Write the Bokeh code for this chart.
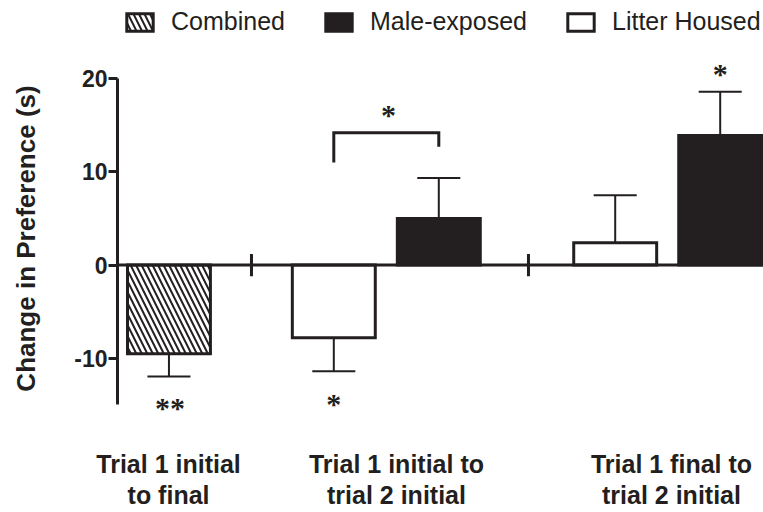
from bokeh.plotting import figure
from bokeh.models import Range1d, FixedTicker, Legend, LegendItem, Span, LabelSet, ColumnDataSource
from bokeh.embed import file_html
from bokeh.resources import INLINE

# ---------------- data ----------------
categories = ["Trial 1 initial\nto final",
              "Trial 1 initial to\ntrial 2 initial",
              "Trial 1 final to\ntrial 2 initial"]
series_names = ["Combined", "Male-exposed", "Litter Housed"]

combined_mean = [-9.5]
combined_sem = [2.45]
male_mean = [5.0, 13.9]          # groups 2 and 3
male_sem = [4.35, 4.7]
litter_mean = [-7.8, 2.4]        # groups 2 and 3
litter_sem = [3.6, 5.1]

y_ticks = [-10, 0, 10, 20]
y_tick_labels = ["-10", "0", "10", "20"]
y_label = "Change in Preference (s)"

# significance marks
sig_combined = ["**"]
sig_litter = ["*", ""]
sig_male = ["", "*"]
sig_bracket = ["*"]
bracket_levels = [11.0, 14.2, 12.7]   # left leg end, top, right leg end

# ---------------- layout ----------------
INK = "#231f20"
FONT = "Liberation Sans"
PX_X = 105.0
FRAME_W = 646
combined_x = [0.49]
litter_x = [2.06, 4.74]
male_x = [3.06, 5.74]
label_x = [0.486, 2.657, 5.276]
break_x = [1.276, 3.914]
BAR_W = 0.79
CAP_W = 0.41

p = figure(width=763, height=512, output_backend="svg", toolbar_location=None,
           x_range=Range1d(0, FRAME_W / PX_X), y_range=Range1d(-22.68, 28.38),
           min_border_left=117, min_border_right=0,
           min_border_top=0, min_border_bottom=32)
p.grid.visible = False
p.outline_line_color = None
p.background_fill_color = "white"

# y axis
ax = p.yaxis[0]
ax.ticker = FixedTicker(ticks=y_ticks)
ax.major_label_overrides = {t: s for t, s in zip(y_ticks, y_tick_labels)}
ax.bounds = (-15, 20)
ax.axis_line_width = 3
ax.axis_line_color = INK
ax.major_tick_line_width = 3
ax.major_tick_line_color = INK
ax.major_tick_out = 9
ax.major_tick_in = 0
ax.minor_tick_line_color = None
ax.major_label_text_font = FONT
ax.major_label_text_font_style = "bold"
ax.major_label_text_font_size = "23px"
ax.major_label_text_color = INK
ax.major_label_standoff = 1
ax.axis_label = y_label
ax.axis_label_text_font = FONT
ax.axis_label_text_font_style = "bold"
ax.axis_label_text_font_size = "26px"
ax.axis_label_text_color = INK
ax.axis_label_standoff = 30

# x axis: category labels only
xa = p.xaxis[0]
xa.ticker = FixedTicker(ticks=label_x)
xa.major_label_overrides = {x: c for x, c in zip(label_x, categories)}
xa.axis_line_color = None
xa.major_tick_line_color = None
xa.minor_tick_line_color = None
xa.major_tick_out = 0
xa.major_tick_in = 0
xa.major_label_standoff = -27
xa.major_label_text_font = FONT
xa.major_label_text_font_style = "bold"
xa.major_label_text_font_size = "25px"
xa.major_label_text_color = INK
xa.major_label_text_line_height = 1.14

# baseline with axis breaks
p.add_layout(Span(location=0, dimension="width", line_color=INK, line_width=3))
p.segment(x0=break_x, x1=break_x, y0=[-1.2] * len(break_x), y1=[1.2] * len(break_x),
          line_color=INK, line_width=3)

# error bars (one-sided, away from zero)
def err_bars(xs, means, sems):
    ends = [m + (s if m >= 0 else -s) for m, s in zip(means, sems)]
    p.segment(x0=xs, x1=xs, y0=means, y1=ends, line_color=INK, line_width=2)
    p.segment(x0=[x - CAP_W / 2 for x in xs], x1=[x + CAP_W / 2 for x in xs],
              y0=ends, y1=ends, line_color=INK, line_width=2)
    return ends

comb_end = err_bars(combined_x, combined_mean, combined_sem)
lit_end = err_bars(litter_x, litter_mean, litter_sem)
male_end = err_bars(male_x, male_mean, male_sem)

# bars
r_comb = p.vbar(x=combined_x, top=combined_mean, bottom=0, width=BAR_W,
                fill_color="white", line_color=INK, line_width=3, line_join="miter",
                hatch_pattern="\\", hatch_color=INK, hatch_weight=2, hatch_scale=11)
r_male = p.vbar(x=male_x, top=male_mean, bottom=0, width=BAR_W,
                fill_color=INK, line_color=INK, line_width=3, line_join="miter")
r_lit = p.vbar(x=litter_x, top=litter_mean, bottom=0, width=BAR_W,
               fill_color="white", line_color=INK, line_width=3, line_join="miter")

# bracket
p.line(x=[litter_x[0], litter_x[0], male_x[0], male_x[0]],
       y=[bracket_levels[0], bracket_levels[1], bracket_levels[1], bracket_levels[2]],
       line_color=INK, line_width=3, line_join="miter")

# significance stars
star_style = dict(text_font=FONT, text_font_style="bold", text_font_size="30px",
                  text_color=INK, text_align="center", text_baseline="middle")
below1 = ColumnDataSource(dict(x=[combined_x[0] + 0.01], y=comb_end, t=sig_combined))
below2 = ColumnDataSource(dict(x=litter_x, y=lit_end, t=sig_litter))
above = ColumnDataSource(dict(x=male_x + [(litter_x[0] + male_x[0]) / 2 + 0.02],
                              y=male_end + [bracket_levels[1]],
                              t=sig_male + sig_bracket))
p.add_layout(LabelSet(x="x", y="y", text="t", source=below1, y_offset=-31, **star_style))
p.add_layout(LabelSet(x="x", y="y", text="t", source=below2, y_offset=-32.5, **star_style))
p.add_layout(LabelSet(x="x", y="y", text="t", source=above, y_offset=18, **star_style))

# legend
legend = Legend(items=[LegendItem(label=series_names[0], renderers=[r_comb]),
                       LegendItem(label=series_names[1], renderers=[r_male]),
                       LegendItem(label=series_names[2], renderers=[r_lit])],
                orientation="horizontal", location=(6, 440),
                glyph_width=33, glyph_height=22, label_standoff=15, spacing=37,
                padding=0, margin=0, border_line_color=None, background_fill_alpha=0,
                label_text_font=FONT, label_text_font_size="25px",
                label_text_color=INK)
p.add_layout(legend)

open("out.html", "w").write(file_html(p, INLINE))
